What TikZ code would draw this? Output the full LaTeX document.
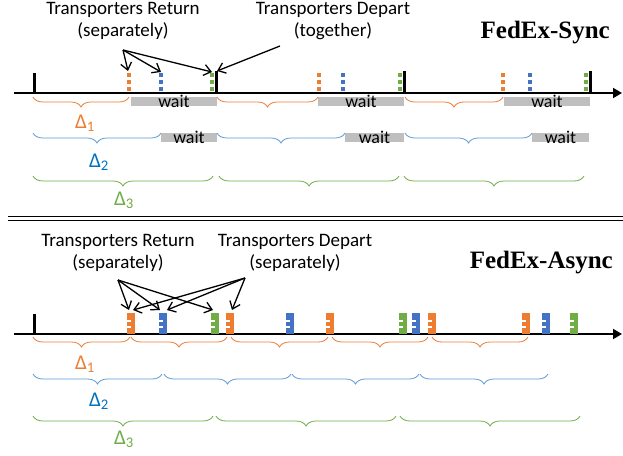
\documentclass[tikz,border=0pt]{standalone}
\usepackage{fontspec}
\setmainfont{Carlito}
\newfontfamily\titlefont{Liberation Serif}
\usetikzlibrary{decorations.pathreplacing,arrows.meta}
\definecolor{orng}{HTML}{ED7D31}
\definecolor{blu}{HTML}{4472C4}
\definecolor{bbr}{HTML}{5B9BD5}
\definecolor{dbl}{HTML}{0070C0}
\definecolor{grn}{HTML}{70AD47}
\definecolor{wgray}{HTML}{BFBFBF}
\tikzset{
  lbl/.style={font=\fontsize{19}{22}\selectfont, align=center, inner sep=0pt},
  ttl/.style={font=\titlefont\bfseries\fontsize{25}{28}\selectfont, inner sep=0pt},
  dlt/.style={font=\fontsize{21}{23}\selectfont, inner sep=0pt},
  axis/.style={line width=1.8pt, -{Triangle[length=9pt,width=10pt]}},
  blk/.style={line width=3pt},
  dmark/.style={line width=3.5pt, dash pattern=on 4pt off 3pt},
  br/.style={decorate, decoration={brace, mirror, amplitude=10pt}, line width=0.8pt},
  waitbox/.style={fill=wgray, draw=none, inner sep=0pt},
  waittxt/.style={font=\fontsize{18}{20}\selectfont, inner sep=0pt},
  arr/.style={line width=1.3pt, -{Straight Barb[length=7pt,width=11pt]}},
}
\newcommand{\amark}[3]{% name, x, color
  \fill[#3] (#2-3.8,313) rectangle (#2+3.8,334);
  \fill[white] (#2-3.8,319.5) rectangle (#2,321.5);
  \fill[white] (#2-3.8,326) rectangle (#2,328);
  \coordinate (#1) at (#2,310);
}
\newcommand{\dl}[1]{Δ\textsubscript{#1}}
\begin{document}
\begin{tikzpicture}[x=1pt,y=-1pt]
\useasboundingbox (0,0) rectangle (623,455);
\fill[white] (0,0) rectangle (623,455);

% ================= SYNC =================
\node[lbl] (sret) at (123,21) {Transporters Return\\(separately)};
\node[lbl] (sdep) at (333,21) {Transporters Depart\\(together)};
\node[ttl, anchor=east] (stitle) at (610,33) {FedEx-Sync};

\coordinate (sa0) at (14,93);
\coordinate (sa1) at (622,93);
\draw[axis] (sa0) -- (sa1);

% black bars
\draw[blk] (34,73) -- (34,93);
\foreach \x in {216,404,590} \draw[blk] (\x,71) -- (\x,93);
% dashed marks
\foreach \x in {129,319,503} \draw[dmark, orng] (\x,73) -- (\x,93);
\foreach \x in {161,343,530} \draw[dmark, blu] (\x,73) -- (\x,93);
\foreach \x in {212,400,586} \draw[dmark, grn] (\x,73) -- (\x,93);

\coordinate (so1) at (128,71);
\coordinate (sb1) at (161,72);
\coordinate (sg1) at (212,72);
\coordinate (sk1) at (217,71);
\coordinate (sretp) at (123,50);
\coordinate (sdepp) at (280,46);
\draw[arr] (sretp) -- (so1);
\draw[arr] (sretp) -- (sb1);
\draw[arr] (sretp) -- (sg1);
\draw[arr] (sdepp) -- (sk1);

% wait boxes
\node[waitbox, minimum width=86pt, minimum height=9pt] (w1) at (174,101.5) {};
\node[waitbox, minimum width=86pt, minimum height=9pt] (w2) at (361,101.5) {};
\node[waitbox, minimum width=86pt, minimum height=9pt] (w3) at (547,101.5) {};
\node[waitbox, minimum width=56pt, minimum height=9pt] (w4) at (189,137.5) {};
\node[waitbox, minimum width=59pt, minimum height=9pt] (w5) at (374.5,137.5) {};
\node[waitbox, minimum width=57pt, minimum height=9pt] (w6) at (560.5,137.5) {};
\foreach \w in {w1,w2,w3,w4,w5,w6} \node[waittxt] at (\w) {wait};

% braces
\draw[br, orng] (33,97) -- (129,97);
\draw[br, orng] (217,97) -- (318,97);
\draw[br, orng] (405,97) -- (503,97);
\draw[br, bbr] (33,133) -- (161,133);
\draw[br, bbr] (217,133) -- (345,133);
\draw[br, bbr] (405,133) -- (532,133);
\draw[br, grn] (33,176) -- (213,176);
\draw[br, grn] (219,176) -- (399,176);
\draw[br, grn] (404,176) -- (584,176);

\node[dlt, text=orng] (sd1) at (85,123) {\dl{1}};
\node[dlt, text=dbl] (sd2) at (99,162) {\dl{2}};
\node[dlt, text=grn] (sd3) at (124,200) {\dl{3}};

% separator
\draw[line width=1.6pt] (8,216.5) -- (623,216.5);
\draw[line width=1pt] (8,220.5) -- (623,220.5);

% ================= ASYNC =================
\node[lbl] (aret) at (118,253) {Transporters Return\\(separately)};
\node[lbl] (adep) at (295,253) {Transporters Depart\\(separately)};
\node[ttl, anchor=east] (atitle) at (613,263) {FedEx-Async};

\coordinate (aa0) at (14,334);
\coordinate (aa1) at (622,334);
\draw[axis] (aa0) -- (aa1);
\draw[blk] (34,314) -- (34,334);

\amark{ao1}{131}{orng}
\amark{ab1}{163}{blu}
\amark{ag1}{215}{grn}
\amark{ao2}{230}{orng}
\amark{ab2}{290}{blu}
\amark{ao3}{330}{orng}
\amark{ag2}{403}{grn}
\amark{ab3}{416}{blu}
\amark{ao4}{432}{orng}
\amark{ao5}{526}{orng}
\amark{ab4}{546}{blu}
\amark{ag3}{574}{grn}

\coordinate (aretp) at (118,280);
\coordinate (adepp) at (245,278);
\draw[arr] (aretp) -- ([xshift=-2pt]ao1);
\draw[arr] (aretp) -- ([xshift=-3pt]ab1);
\draw[arr] (aretp) -- ([xshift=-2pt]ag1);
\draw[arr] (adepp) -- ([xshift=2pt]ao1);
\draw[arr] (adepp) -- ([xshift=4pt]ab1);
\draw[arr] (adepp) -- ([xshift=2pt]ao2);

% braces
\draw[br, orng] (33,337) -- (130,337);
\draw[br, orng] (131,337) -- (227,337);
\draw[br, orng] (231,337) -- (328,337);
\draw[br, orng] (332,337) -- (428,337);
\draw[br, orng] (432,337) -- (528,337);
\draw[br, bbr] (33,374) -- (162,374);
\draw[br, bbr] (164,374) -- (291,374);
\draw[br, bbr] (292,374) -- (419,374);
\draw[br, bbr] (420,374) -- (548,374);
\draw[br, grn] (33,416) -- (213,416);
\draw[br, grn] (216,416) -- (396,416);
\draw[br, grn] (400,416) -- (580,416);

\node[dlt, text=orng] (ad1) at (85,364) {\dl{1}};
\node[dlt, text=dbl] (ad2) at (99,401) {\dl{2}};
\node[dlt, text=grn] (ad3) at (124,439) {\dl{3}};
\end{tikzpicture}
\end{document}
